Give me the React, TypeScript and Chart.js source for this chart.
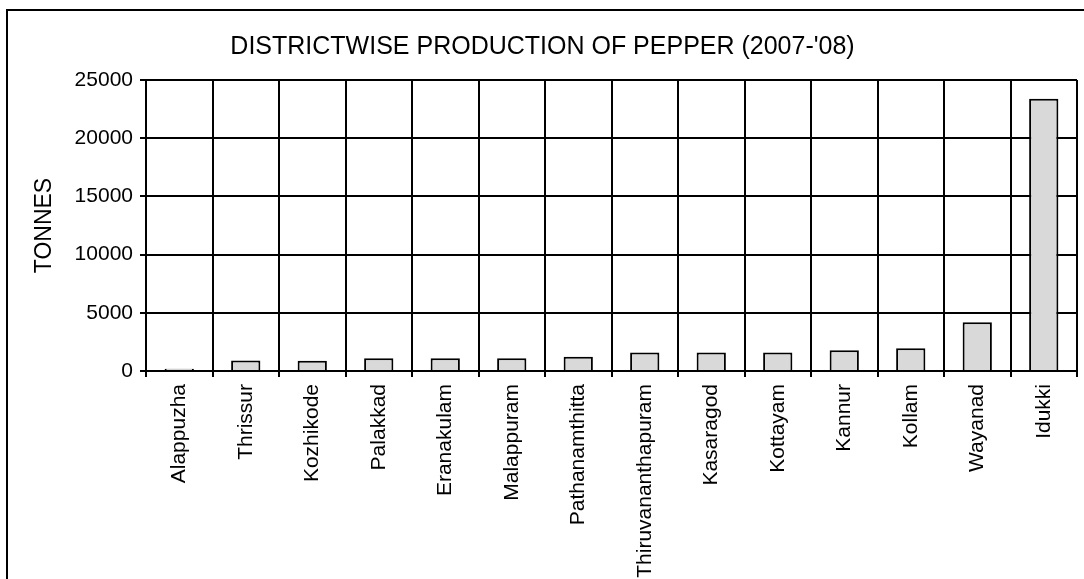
import React, { useEffect, useRef } from "react";
import { Chart, registerables } from "chart.js";

Chart.register(...registerables);

const districts = [
  "Alappuzha",
  "Thrissur",
  "Kozhikode",
  "Palakkad",
  "Eranakulam",
  "Malappuram",
  "Pathanamthitta",
  "Thiruvananthapuram",
  "Kasaragod",
  "Kottayam",
  "Kannur",
  "Kollam",
  "Wayanad",
  "Idukki",
];

const production = [200, 900, 880, 1100, 1100, 1100, 1220, 1600, 1600, 1600, 1780, 1950, 4180, 23380];

const yTicks = [0, 5000, 10000, 15000, 20000, 25000];

const FONT = "'Liberation Sans', Arial, sans-serif";

export default function App() {
  const ref = useRef<HTMLCanvasElement | null>(null);

  useEffect(() => {
    if (!ref.current) return;
    const chart = new Chart(ref.current, {
      type: "bar",
      data: {
        labels: districts,
        datasets: [
          {
            data: production,
            backgroundColor: "#d9d9d9",
            borderColor: "#000000",
            borderWidth: 2,
            categoryPercentage: 1,
            barPercentage: 0.44,
          },
        ],
      },
      options: {
        responsive: false,
        animation: false,
        devicePixelRatio: 1,
        layout: { padding: { left: 0, right: 7, top: 0, bottom: 0 } },
        plugins: {
          legend: { display: false },
          tooltip: { enabled: false },
          title: {
            display: true,
            text: "DISTRICTWISE PRODUCTION OF PEPPER (2007-'08)",
            color: "#000",
            font: { family: FONT, size: 25, weight: "normal" },
            padding: { top: 21, bottom: 18 },
          },
        },
        scales: {
          x: {
            type: "category",
            offset: true,
            afterFit: (scale: any) => {
              scale.height = 208;
            },
            grid: {
              display: true,
              offset: true,
              color: "#000",
              lineWidth: 2,
              drawTicks: true,
              tickLength: 6,
            },
            border: { display: true, color: "#000", width: 2 },
            ticks: {
              color: "#000",
              font: { family: FONT, size: 21 },
              minRotation: 90,
              maxRotation: 90,
              autoSkip: false,
              padding: 7,
            },
          },
          y: {
            min: 0,
            max: 25000,
            afterFit: (scale: any) => {
              scale.width = 138;
            },
            afterBuildTicks: (scale: any) => {
              scale.ticks = yTicks.map((v) => ({ value: v }));
            },
            grid: {
              color: "#000",
              lineWidth: 2,
              drawTicks: true,
              tickLength: 6,
            },
            border: { display: true, color: "#000", width: 2 },
            ticks: {
              color: "#000",
              font: { family: FONT, size: 21 },
              padding: 7,
              callback: (v: any) => String(v),
            },
            title: {
              display: true,
              text: "TONNES",
              color: "#000",
              font: { family: FONT, size: 23 },
              padding: { top: 23, bottom: 0 },
            },
          },
        },
      },
    });
    return () => chart.destroy();
  }, []);

  return (
    <div
      style={{
        position: "absolute",
        left: 6,
        top: 9,
        width: 1100,
        height: 600,
        borderTop: "2px solid #000",
        borderLeft: "2px solid #000",
        background: "#fff",
        overflow: "hidden",
      }}
    >
      <canvas ref={ref} width={1076} height={568} style={{ display: "block" }} />
    </div>
  );
}
